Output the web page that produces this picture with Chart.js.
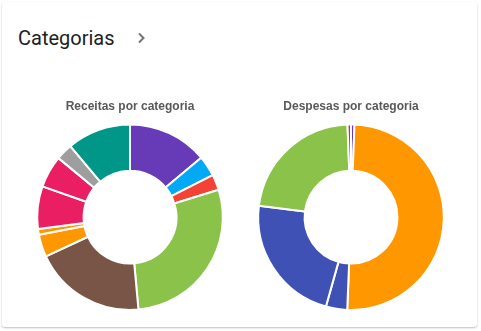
<!DOCTYPE html>
<html>
<head>
<meta charset="utf-8">
<script src="https://cdn.jsdelivr.net/npm/chart.js@4"></script>
<style>
  body { margin: 0; background: #fff; font-family: Roboto, Arial, sans-serif; }
  .card {
    position: absolute; left: 2px; top: 2px; width: 475px; height: 325px;
    background: #fff; border-radius: 3px;
    box-shadow: 0 1px 2px rgba(0,0,0,0.25);
  }
  .head { position: absolute; left: 16px; top: 24px; font-size: 20px; color: #212121; }
  .chev { position: absolute; left: 132px; top: 28px; width: 16px; height: 16px; }
  .box { position: absolute; top: 87px; width: 220px; height: 222px; }
</style>
</head>
<body>
<div class="card">
  <div class="head">Categorias</div>
  <svg class="chev" viewBox="0 0 16 16"><path d="M5 3.5 L9.5 8 L5 12.5" fill="none" stroke="#757575" stroke-width="2"/></svg>
  <div class="box" style="left:18px"><canvas id="myChart_1"></canvas></div>
  <div class="box" style="left:239px"><canvas id="myChart_2"></canvas></div>
</div>
<script>
// receitas
var receitas_labels = ['Salário', 'Investimentos', 'Reembolsos', 'Vendas', 'Aluguel', 'Prêmios', 'Bônus', 'Freelance', 'Presentes', 'Juros', 'Outros'];
var receitas_values = [13.9, 3.6, 2.7, 28.3, 19.5, 3.9, 1.0, 7.4, 5.6, 2.9, 11.1];
var receitas_colors = ['#673AB7', '#03A9F4', '#F44336', '#8BC34A', '#795548', '#FF9800', '#FF9800', '#E91E63', '#E91E63', '#9E9E9E', '#009688'];

// despesas
var despesas_labels = ['Lazer', 'Moradia', 'Transporte', 'Alimentação', 'Educação', 'Saúde'];
var despesas_values = [0.6, 50.0, 3.7, 22.6, 22.4, 0.6];
var despesas_colors = ['#673AB7', '#FF9800', '#3F51B5', '#3F51B5', '#8BC34A', '#E91E63'];

Chart.defaults.font.family = '"Liberation Sans", Arial, sans-serif';

function makeDonut(id, title, labels, values, colors) {
    var ctx = document.getElementById(id).getContext('2d');
    return new Chart(ctx, {
        type: 'doughnut',
        data: {
            labels: labels,
            datasets: [{
                data: values,
                backgroundColor: colors,
                borderColor: '#fff',
                borderWidth: 2
            }]
        },
        options: {
            responsive: true,
            maintainAspectRatio: false,
            animation: false,
            cutout: '50%',
            layout: { padding: 0 },
            plugins: {
                legend: { display: false },
                tooltip: { enabled: false },
                title: {
                    display: true,
                    text: title,
                    color: '#595959',
                    font: { size: 12, weight: 'bold' },
                    padding: { top: 10, bottom: 10 }
                }
            }
        }
    });
}

var myChart1 = makeDonut('myChart_1', 'Receitas por categoria', receitas_labels, receitas_values, receitas_colors);
var myChart2 = makeDonut('myChart_2', 'Despesas por categoria', despesas_labels, despesas_values, despesas_colors);
</script>
</body>
</html>
